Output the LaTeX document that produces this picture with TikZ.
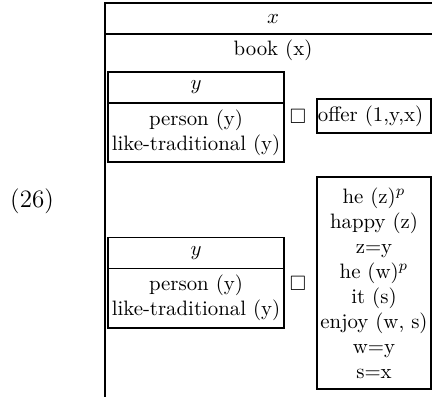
\documentclass[tikz,border=0pt]{standalone}
\usepackage{amssymb}
\usetikzlibrary{positioning}
\tikzstyle{drshead}=[rectangle, draw=black, line width=0.9pt, outer sep=0pt, inner sep=0pt, text centered, minimum width=84.5pt, minimum height=14.9pt]
\tikzstyle{drsbody}=[rectangle, draw=black, line width=0.9pt, outer sep=0pt, inner sep=0pt, align=center, minimum width=84.5pt, minimum height=28.4pt]
\tikzstyle{cond}=[rectangle, draw=black, line width=0.9pt, outer sep=0pt, inner sep=0pt, align=center, minimum width=54.7pt]
\tikzstyle{frame}=[line width=1pt]

\begin{document}
\begin{tikzpicture}[x=0.48pt, y=-0.48pt]
    \useasboundingbox (0,0) rectangle (432,396);

    % outer box, only its left and top part is seen
    \coordinate (otl) at (105,3);
    \coordinate (otr) at (445,3);
    \coordinate (obl) at (105,400);
    \coordinate (odl) at (105,34);
    \coordinate (odr) at (445,34);
    \draw[frame] (obl) -- (otl) -- (otr);
    \draw[frame] (odl) -- (odr);

    \node(num)[font=\large] at (32,201) {(26)};
    \node(xref) at (273,19) {$x$};
    \node(book) at (273,50) {book (x)};

    % first box
    \node(yhead1)[drshead] at (196,87.5) {$y$};
    \node(ybody1)[drsbody, below=0pt of yhead1] {
        person (y)\\like-traditional (y)
    };
    \node(nec1) at (298,116) {$\Box$};
    \node(offer)[cond, minimum height=16.3pt] at (374,116) {
        offer (1,y,x)
    };

    % second box
    \node(yhead2)[drshead] at (196,253) {$y$};
    \node(ybody2)[drsbody, below=0pt of yhead2] {
        person (y)\\like-traditional (y)
    };
    \node(nec2) at (298,283) {$\Box$};
    \node(enjoy)[cond, minimum height=101.8pt] at (374,283) {
        he (z)$^p$\\happy (z)\\z=y\\he (w)$^p$\\it (s)\\enjoy (w, s)\\w=y\\s=x
    };
\end{tikzpicture}
\end{document}
